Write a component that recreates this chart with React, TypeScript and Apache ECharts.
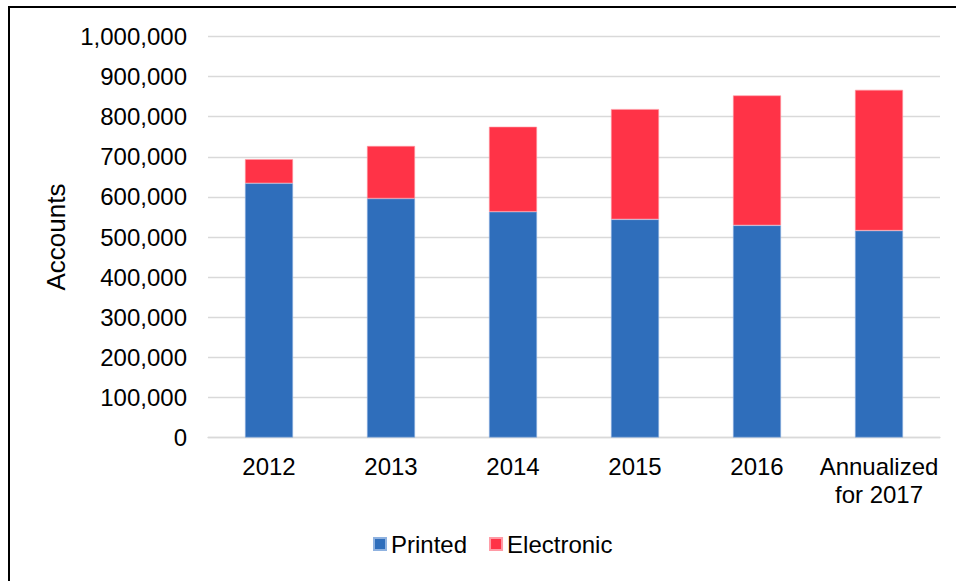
import React, { useEffect, useRef } from "react";
import * as echarts from "echarts";

const categories = ["2012", "2013", "2014", "2015", "2016", "Annualized\nfor 2017"];
const printed = [634000, 596000, 563000, 544000, 529000, 516000];
const electronic = [60000, 131000, 212000, 275000, 324000, 351000];
const seriesNames = ["Printed", "Electronic"];
const yMin = 0;
const yMax = 1000000;
const yInterval = 100000;

const FONT = "'Liberation Sans', Arial, sans-serif";

export default function App() {
  const ref = useRef<HTMLDivElement>(null);
  useEffect(() => {
    if (!ref.current) return;
    const chart = echarts.init(ref.current, undefined, { renderer: "svg" });
    chart.setOption({
      animation: false,
      backgroundColor: "#ffffff",
      textStyle: { fontFamily: FONT },
      grid: { left: 198, top: 28.5, width: 732, height: 401, containLabel: false },
      legend: {
        data: seriesNames,
        left: 358,
        top: 519,
        itemWidth: 12,
        itemHeight: 12,
        itemGap: 22,
        icon: "rect",
        textStyle: { fontSize: 24, color: "#000", fontFamily: FONT },
      },
      xAxis: {
        type: "category",
        data: categories,
        axisLine: { show: true, lineStyle: { color: "#d9d9d9", width: 1.3 } },
        axisTick: { show: false },
        axisLabel: {
          fontSize: 24,
          color: "#000",
          margin: 15,
          lineHeight: 28,
          fontFamily: FONT,
          interval: 0,
        },
      },
      yAxis: {
        type: "value",
        min: yMin,
        max: yMax,
        interval: yInterval,
        name: "Accounts",
        nameLocation: "middle",
        nameRotate: 90,
        nameGap: 137,
        nameTextStyle: { fontSize: 26, color: "#000", fontFamily: FONT },
        axisLine: { show: false },
        axisTick: { show: false },
        splitLine: { lineStyle: { color: "#d9d9d9", width: 1.3 } },
        axisLabel: {
          fontSize: 24,
          color: "#000",
          margin: 21,
          fontFamily: FONT,
          formatter: (v: number) => v.toLocaleString("en-US"),
        },
      },
      series: [
        {
          name: seriesNames[0],
          type: "bar",
          stack: "total",
          data: printed,
          barWidth: 48,
          itemStyle: { color: "#2F6EBB", borderColor: "#8fb2e0", borderWidth: 0.6 },
        },
        {
          name: seriesNames[1],
          type: "bar",
          stack: "total",
          data: electronic,
          barWidth: 48,
          itemStyle: { color: "#FF3347", borderColor: "#ff9aa5", borderWidth: 0.6 },
        },
      ],
    });
    return () => chart.dispose();
  }, []);

  return (
    <div
      style={{
        position: "fixed",
        left: 8,
        top: 6,
        width: 980,
        height: 600,
        borderLeft: "2px solid #000",
        borderTop: "2px solid #000",
        background: "#fff",
      }}
    >
      <div ref={ref} style={{ width: 946, height: 573 }} />
    </div>
  );
}
